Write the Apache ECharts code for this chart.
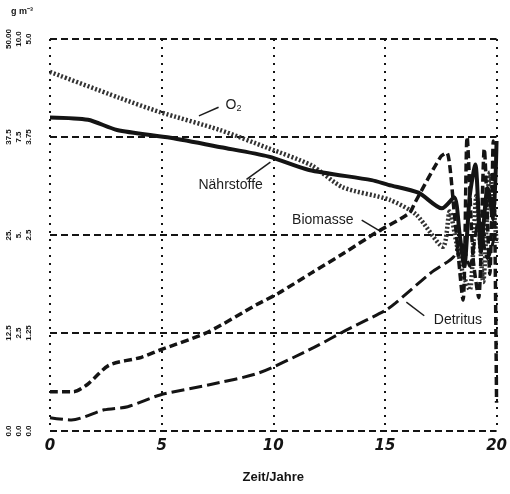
<!DOCTYPE html>
<html>
<head>
<meta charset="utf-8">
<script src="https://cdn.jsdelivr.net/npm/echarts@6/dist/echarts.min.js"></script>
<style>html,body{margin:0;padding:0;background:#fff}#c{width:510px;height:494px}</style>
</head>
<body>
<div id="c"></div>
<script>
// time (years) vs. concentration
var xTicks = [0, 5, 10, 15, 20];
var yTickLabels = {
  0: '0.0\n0.0\n0.0',
  12.5: '12.5\n2.5\n1.25',
  25: '25.\n5.\n2.5',
  37.5: '37.5\n7.5\n3.75',
  50: '50.00\n10.0\n5.0'
};
var o2Data = [[0,45.8],[3.1,42.5],[4.9,40.7],[7.6,38.4],[9.75,36.1],[11.7,33.9],[13.1,31.1],[15.2,29.5],[16.4,27.6],[17.6,23.5],[17.9,28],[18.2,24],[18.5,20],[18.8,18],[19.1,30],[19.4,19],[19.7,33],[20,24]];
var naehrData = [[0,40],[1.7,39.7],[3.0,38.4],[5.4,37.4],[7.65,36.2],[9.8,35],[11.6,33.3],[14.4,32.0],[15.15,31.4],[16.5,30.4],[17.55,28.4],[18.1,29.8],[18.35,25],[18.55,21],[18.8,30],[19.05,34],[19.3,23],[19.6,31],[19.85,27],[20,37]];
var biomasseData = [[0,5.0],[1.05,5.0],[1.66,5.9],[2.65,8.4],[4.1,9.4],[4.9,10.3],[7.06,12.6],[9.24,16.1],[10.25,17.6],[11.73,20.2],[13.17,22.7],[14.6,25.3],[16.09,27.8],[16.34,29.1],[17.5,35],[17.77,35.5],[18.1,28],[18.5,16.7],[18.68,37.5],[18.95,22],[19.2,17],[19.45,36],[19.7,20],[19.85,37],[20,3.6]];
var detritusData = [[0,1.7],[0.96,1.4],[2.42,2.7],[3.48,3.1],[4.93,4.6],[7.14,5.9],[9.35,7.4],[11.85,10.7],[13.29,12.9],[15.04,15.4],[15.47,16.3],[17.07,20.2],[18.07,22.2],[18.4,24.5],[18.8,21],[19.2,27],[19.6,22],[20,26]];
// annotation anchors in data units: [label position, pointer start, pointer end]
var annotations = [
  {text: 'O{s|2}', pos: [8.22, 41.6], from: [7.55, 41.3], to: [6.67, 40.2]},
  {text: 'Nährstoffe', pos: [8.09, 31.4], from: [9.87, 34.3], to: [8.8, 32.1]},
  {text: 'Biomasse', pos: [12.22, 26.9], from: [13.96, 26.9], to: [14.84, 25.4]},
  {text: 'Detritus', pos: [18.27, 14.2], from: [16.76, 14.7], to: [15.96, 16.45]}
];

var chart = echarts.init(document.getElementById('c'), null, {renderer: 'canvas'});
var ink = '#141414';
chart.setOption({
  animation: false,
  backgroundColor: '#fff',
  grid: {left: 50, right: 10, top: 39, bottom: 63},
  xAxis: {
    type: 'value', min: 0, max: 20, interval: 5,
    axisLine: {show: false}, axisTick: {show: false},
    splitLine: {show: true, lineStyle: {color: ink, width: 2, type: [2, 6]}},
    axisLabel: {color: ink, fontSize: 15, fontStyle: 'italic', fontWeight: 'bold', fontFamily: 'DejaVu Sans', margin: 8},
    name: 'Zeit/Jahre', nameLocation: 'middle', nameGap: 40,
    nameTextStyle: {color: ink, fontSize: 13, fontWeight: 'bold', fontFamily: 'Liberation Sans'}
  },
  yAxis: {
    type: 'value', min: 0, max: 50, interval: 12.5,
    axisLine: {show: false}, axisTick: {show: false},
    splitLine: {show: true, lineStyle: {color: ink, width: 2, type: [7, 4]}},
    axisLabel: {
      color: ink, fontSize: 8, fontWeight: 'bold', rotate: 90, margin: 16, lineHeight: 10,
      formatter: function (v) { return yTickLabels[v] !== undefined ? yTickLabels[v] : ''; }
    }
  },
  series: [
    {name: 'O2', type: 'line', data: o2Data, smooth: 0.25, symbol: 'none',
     lineStyle: {color: '#333', width: 4.5, type: [2, 2]}},
    {name: 'Nährstoffe', type: 'line', data: naehrData, smooth: 0.25, symbol: 'none',
     lineStyle: {color: ink, width: 4, type: 'solid'}},
    {name: 'Biomasse', type: 'line', data: biomasseData, smooth: 0.25, symbol: 'none',
     lineStyle: {color: ink, width: 3.5, type: [8, 4]}},
    {name: 'Detritus', type: 'line', data: detritusData, smooth: 0.25, symbol: 'none',
     lineStyle: {color: ink, width: 3, type: [13, 5]}}
  ]
});

var g = [];
annotations.forEach(function (a) {
  var p = chart.convertToPixel({gridIndex: 0}, a.pos);
  var f = chart.convertToPixel({gridIndex: 0}, a.from);
  var t = chart.convertToPixel({gridIndex: 0}, a.to);
  g.push({type: 'text', x: p[0], y: p[1], style: {
    text: a.text, fill: '#1c1c1c', font: '14px "Liberation Sans", Arial',
    align: 'center', verticalAlign: 'middle',
    rich: {s: {fontSize: 9, verticalAlign: 'bottom', padding: [8, 0, 0, 0], fill: '#1c1c1c'}}
  }});
  g.push({type: 'line', shape: {x1: f[0], y1: f[1], x2: t[0], y2: t[1]}, style: {stroke: '#1c1c1c', lineWidth: 1.5}});
});
g.push({type: 'text', x: 22, y: 12, style: {
  text: 'g m⁻³', fill: ink, font: 'bold 9px "Liberation Sans", Arial', align: 'center', verticalAlign: 'middle'}});
chart.setOption({graphic: g});
</script>
</body>
</html>
